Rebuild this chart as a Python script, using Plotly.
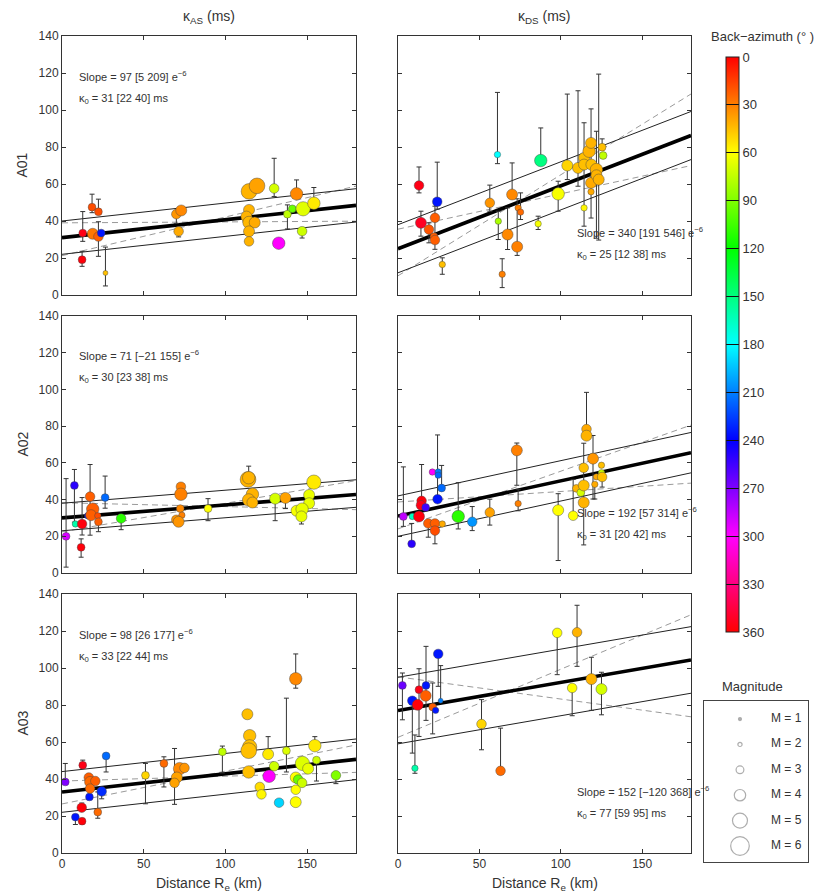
import plotly.graph_objects as go

W, H = 824, 894          # reference picture size
OFF = 8                  # page body margin offset
FW, FH = W - OFF, H - OFF  # figure size so that it fills the window exactly
FONT = "Arial, Liberation Sans, sans-serif"

# ---------------- labels / ticks ----------------
stations = ["A01", "A02", "A03"]
col_titles = ["κ<sub>AS</sub> (ms)", "κ<sub>DS</sub> (ms)"]
x_title = "Distance R<sub>e</sub> (km)"
x_ticks = [0, 50, 100, 150]
y_ticks = [0, 20, 40, 60, 80, 100, 120, 140]
baz_ticks = [0, 30, 60, 90, 120, 150, 180, 210, 240, 270, 300, 330, 360]
mag_legend = [1, 2, 3, 4, 5, 6]

# ---------------- fit parameters (slope in e-6 s/km, kappa0 in ms) ----------------
as_slope = [97, 71, 98]
as_slope_lo = [5, -21, 26]
as_slope_hi = [209, 155, 177]
as_k0 = [31, 30, 33]
as_k0_lo = [22, 23, 22]
as_k0_hi = [40, 38, 44]
as_pivot = [87, 90, 82]

ds_slope = [340, 192, 152]
ds_slope_lo = [191, 57, -120]
ds_slope_hi = [546, 314, 368]
ds_k0 = [25, 31, 77]
ds_k0_lo = [12, 20, 59]
ds_k0_hi = [38, 42, 95]
ds_pivot = [71, 57, 67]

# ---------------- A01 kappa_AS ----------------
a01_as_dist = [12.7, 12.3, 18.4, 22.3, 18.8, 22.3, 24.0, 26.6, 70.0, 73.0, 71.4, 114.5, 119.4, 114.5, 112.9, 114.5, 118.0, 114.5, 114.5, 129.9, 132.7, 143.6, 138.0, 141.0, 147.6, 147.0, 154.2]
a01_as_kappa = [33.5, 19.1, 47.5, 45.0, 33.1, 31.6, 33.5, 11.9, 43.7, 45.7, 34.4, 56.0, 59.0, 46.0, 42.4, 39.2, 39.2, 34.4, 29.0, 57.6, 28.0, 54.7, 43.7, 46.6, 46.6, 34.5, 49.6]
a01_as_up = [11.6, 4.5, 7.0, 6.8, 0, 8.0, 0, 14.0, 0, 0, 0, 0, 0, 0, 0, 0, 0, 0, 0, 16.3, 0, 7.5, 5.0, 0, 0, 0, 8.5]
a01_as_dn = [4.5, 3.6, 3.0, 0, 0, 10.7, 0, 7.0, 5.0, 0, 3.0, 0, 0, 0, 0, 0, 0, 0, 0, 4.4, 0, 0, 8.0, 0, 0, 3.7, 0]
a01_as_baz = [355, 358, 18, 18, 28, 22, 235, 45, 35, 32, 40, 42, 38, 42, 42, 43, 40, 42, 42, 70, 300, 32, 75, 95, 67, 72, 55]
a01_as_mag = [3.0, 3.0, 3.0, 3.0, 3.9, 3.5, 3.0, 2.2, 3.5, 3.9, 3.5, 5.2, 5.2, 3.9, 3.9, 4.3, 3.9, 3.9, 3.5, 3.5, 4.3, 4.3, 3.0, 3.0, 4.8, 3.5, 4.3]

# ---------------- A01 kappa_DS ----------------
a01_ds_dist = [12.9, 14.1, 24.1, 19.0, 22.7, 22.1, 22.7, 27.2, 61.1, 61.6, 56.4, 64.0, 67.3, 70.1, 73.2, 73.8, 75.3, 87.7, 86.1, 98.4, 104.0, 110.6, 114.3, 114.3, 114.3, 117.4, 118.6, 118.8, 118.6, 118.6, 121.9, 121.9, 123.3, 125.4, 126.0]
a01_ds_kappa = [59.2, 39.0, 50.4, 35.4, 41.7, 31.5, 29.7, 16.5, 75.9, 39.9, 49.8, 11.2, 32.7, 54.3, 26.1, 47.1, 44.8, 72.7, 38.5, 54.7, 70.0, 68.7, 47.1, 74.1, 70.5, 77.7, 82.2, 70.5, 60.6, 55.8, 67.8, 64.7, 62.4, 79.9, 75.4]
a01_ds_up = [10, 6.3, 21.4, 3.6, 6.3, 0, 0, 3.6, 33.6, 5.4, 9.6, 8.4, 14.4, 17.1, 25.9, 0, 10.4, 17.6, 4.1, 6.8, 38.6, 41.7, 46, 0, 0, 0, 0, 0, 40, 0, 20.7, 0, 57, 4.5, 0]
a01_ds_dn = [4, 7.2, 4, 7.2, 17, 0, 0, 5.3, 4.9, 9.9, 4.5, 7.2, 8.1, 0, 4.7, 0, 4, 0, 3.1, 9.4, 7.6, 9.9, 9.9, 0, 0, 0, 0, 0, 19, 0, 0, 34, 32.7, 0, 0]
a01_ds_baz = [355, 352, 235, 20, 22, 22, 22, 45, 180, 80, 35, 30, 32, 32, 30, 30, 25, 150, 62, 62, 50, 45, 58, 45, 45, 42, 42, 45, 40, 40, 42, 42, 42, 45, 75]
a01_ds_mag = [3.5, 3.9, 3.5, 3.5, 3.5, 3.0, 3.5, 2.6, 2.6, 2.6, 3.5, 2.6, 3.9, 3.9, 3.9, 2.6, 2.6, 4.3, 2.6, 4.3, 3.9, 3.9, 2.6, 3.9, 3.9, 4.3, 3.9, 3.9, 3.9, 2.6, 4.3, 3.9, 3.9, 3.0, 3.0]

# ---------------- A02 kappa_AS ----------------
a02_as_dist = [2.5, 7.6, 8.2, 12.3, 11.7, 15.7, 17.2, 18.8, 17.8, 21.9, 22.3, 26.4, 36.2, 72.8, 72.8, 72.4, 73.4, 70.0, 71.4, 89.4, 113.9, 114.3, 116.6, 114.3, 116.6, 130.5, 136.8, 154.2, 151.3, 151.3, 143.6, 147.0, 146.6]
a02_as_kappa = [20.0, 47.7, 26.7, 26.7, 14.0, 31.2, 41.6, 34.8, 31.5, 31.2, 27.9, 41.1, 29.7, 47.0, 42.9, 35.1, 31.5, 29.0, 27.9, 35.1, 51.0, 51.9, 42.9, 39.8, 38.4, 40.5, 40.9, 49.5, 42.5, 38.0, 33.9, 34.8, 30.8]
a02_as_up = [31.4, 8.7, 0, 14.4, 4.6, 0, 17.5, 0, 0, 0, 0, 11.7, 0, 0, 0, 0, 0, 0, 0, 5.4, 0, 6.3, 0, 0, 0, 0, 0, 0, 0, 0, 0, 0, 0]
a02_as_dn = [16.8, 20, 0, 6, 5.4, 0, 21, 0, 0, 0, 5.4, 5.8, 6.1, 0, 0, 0, 0, 0, 0, 6.6, 0, 0, 0, 0, 0, 12, 5.8, 0, 0, 0, 0, 0, 4.1]
a02_as_baz = [290, 250, 160, 357, 358, 235, 22, 22, 22, 18, 22, 215, 110, 30, 30, 32, 30, 35, 35, 60, 42, 42, 42, 42, 42, 70, 38, 55, 65, 65, 62, 65, 65]
a02_as_mag = [3.0, 3.0, 2.6, 3.5, 3.0, 2.6, 3.5, 4.3, 3.9, 2.6, 3.0, 3.0, 3.5, 3.5, 4.3, 3.0, 2.6, 3.5, 3.9, 3.0, 5.2, 4.3, 4.3, 4.3, 3.9, 3.9, 3.9, 4.8, 3.9, 3.9, 3.9, 4.3, 3.9]

# ---------------- A02 kappa_DS ----------------
a02_ds_dist = [3.3, 8.8, 8.4, 14.5, 14.1, 12.9, 17.0, 18.6, 22.7, 22.7, 27.2, 21.1, 24.7, 24.7, 26.8, 24.3, 37.0, 45.6, 56.4, 73.0, 73.8, 98.4, 107.6, 109.6, 112.3, 114.1, 114.1, 114.1, 115.8, 115.8, 119.8, 120.9, 121.9, 125.0, 125.0, 125.4]
a02_ds_kappa = [30.8, 30.8, 15.9, 39.3, 36.9, 30.8, 35.7, 27.0, 27.0, 23.1, 26.7, 55.0, 55.0, 53.3, 46.3, 40.2, 30.8, 27.9, 33.0, 66.8, 37.8, 34.2, 31.2, 46.1, 43.8, 57.3, 47.7, 38.4, 78.4, 74.8, 62.3, 48.3, 52.4, 58.7, 54.6, 52.3]
a02_ds_up = [27, 0, 11.1, 19.8, 0, 0, 0, 0, 0, 0, 0, 0, 0, 0, 12.3, 35, 18.4, 8.3, 7.2, 4, 7.8, 9, 19.8, 0, 0, 0, 23, 0, 20, 0, 12.6, 0, 0, 0, 0, 0]
a02_ds_dn = [5.4, 0, 0, 0, 0, 0, 0, 7.5, 0, 7.2, 0, 0, 0, 0, 0, 0, 6.8, 4.8, 6.9, 19, 3.9, 27.4, 0, 0, 0, 0, 32.4, 0, 0, 0, 22, 8, 0, 0, 0, 5.5]
a02_ds_baz = [285, 165, 250, 358, 355, 357, 255, 22, 22, 18, 40, 300, 210, 215, 215, 235, 110, 205, 38, 30, 30, 60, 60, 42, 70, 45, 45, 42, 40, 42, 35, 40, 40, 45, 72, 45]
a02_ds_mag = [3.0, 2.6, 3.0, 3.5, 3.5, 3.9, 3.0, 3.5, 3.5, 3.5, 2.6, 2.6, 2.6, 2.6, 3.0, 3.5, 4.3, 3.5, 3.5, 3.9, 2.6, 3.9, 3.5, 3.0, 3.0, 3.5, 3.9, 3.9, 3.5, 3.9, 3.9, 2.6, 2.6, 2.6, 2.6, 3.5]

# ---------------- A03 kappa_AS ----------------
a03_as_dist = [2.0, 8.2, 12.3, 12.1, 12.7, 16.8, 16.4, 17.2, 20.4, 17.2, 24.3, 21.9, 27.0, 51.1, 62.4, 72.0, 75.0, 70.3, 68.9, 98.2, 113.5, 114.9, 114.9, 114.3, 114.3, 126.2, 129.9, 126.8, 121.1, 122.1, 132.9, 137.4, 143.1, 143.1, 144.6, 147.0, 143.1, 143.1, 147.2, 150.7, 154.8, 155.8, 167.7]
a03_as_kappa = [38.4, 19.4, 17.2, 24.5, 47.5, 30.3, 40.8, 38.4, 38.9, 34.8, 33.3, 22.1, 52.5, 42.0, 48.4, 45.6, 46.0, 40.8, 37.9, 54.7, 75.0, 63.4, 57.4, 55.3, 43.8, 53.4, 46.9, 41.5, 35.7, 31.7, 27.2, 55.3, 94.2, 40.8, 39.7, 37.9, 34.2, 27.5, 48.4, 45.6, 58.0, 50.2, 42.0]
a03_as_up = [10, 0, 0, 2.5, 2.7, 0, 0, 0, 0, 0, 0, 10.9, 0, 6.4, 3.6, 0, 0, 0, 18.6, 3.1, 0, 0, 0, 0, 0, 9.5, 0, 0, 0, 0, 0, 28.4, 13.4, 0, 0, 0, 0, 0, 0, 0, 4.9, 0, 0]
a03_as_dn = [0, 4, 0, 0, 0, 0, 0, 0, 0, 0, 4, 3.3, 8.7, 15.4, 12.7, 0, 0, 0, 11.6, 11.4, 0, 0, 0, 0, 0, 0, 0, 0, 0, 0, 0, 11.5, 5.1, 0, 0, 0, 0, 0, 0, 0, 0, 11.3, 4.5]
a03_as_baz = [270, 235, 358, 358, 355, 235, 22, 25, 22, 25, 230, 25, 215, 50, 25, 32, 35, 38, 38, 75, 45, 45, 45, 45, 45, 55, 72, 300, 52, 58, 190, 68, 32, 60, 95, 72, 60, 60, 68, 65, 55, 72, 90]
a03_as_mag = [3.0, 3.0, 3.0, 3.5, 3.0, 3.0, 3.5, 3.9, 3.5, 3.5, 3.5, 3.0, 3.0, 3.0, 3.0, 4.3, 3.5, 3.9, 3.5, 3.0, 3.9, 4.3, 4.8, 5.2, 4.3, 3.9, 3.5, 4.3, 3.5, 3.5, 3.5, 3.0, 4.3, 3.9, 3.5, 3.5, 3.5, 3.9, 4.8, 3.9, 4.3, 3.0, 3.5]

# ---------------- A03 kappa_DS ----------------
a03_ds_dist = [2.7, 8.8, 10.4, 12.9, 12.1, 17.2, 17.0, 21.3, 23.1, 24.7, 26.2, 51.3, 63.0, 97.8, 110.0, 107.0, 118.8, 125.0]
a03_ds_kappa = [90.6, 82.3, 45.8, 88.3, 80.1, 90.6, 85.0, 78.9, 77.1, 107.6, 82.3, 69.7, 44.4, 119.0, 119.3, 89.2, 94.0, 88.6]
a03_ds_up = [6.7, 0, 18, 11.3, 0, 21.1, 0, 13, 0, 0, 19, 13.2, 23.1, 0, 14.6, 0, 11.8, 9.1]
a03_ds_dn = [18.6, 28.3, 2.7, 25.3, 0, 18.9, 0, 14.5, 0, 17.5, 0, 13.9, 0, 22.6, 18.4, 15, 16.9, 13.9]
a03_ds_baz = [265, 235, 160, 355, 358, 235, 22, 22, 235, 235, 210, 50, 25, 60, 42, 60, 42, 70]
a03_ds_mag = [3.0, 3.5, 2.6, 3.0, 3.9, 3.0, 3.9, 3.0, 2.6, 3.5, 2.2, 3.5, 3.5, 3.5, 3.5, 3.5, 3.9, 3.9]

# ---------------- assemble ----------------
panels = [
    (a01_as_dist, a01_as_kappa, a01_as_up, a01_as_dn, a01_as_baz, a01_as_mag),
    (a01_ds_dist, a01_ds_kappa, a01_ds_up, a01_ds_dn, a01_ds_baz, a01_ds_mag),
    (a02_as_dist, a02_as_kappa, a02_as_up, a02_as_dn, a02_as_baz, a02_as_mag),
    (a02_ds_dist, a02_ds_kappa, a02_ds_up, a02_ds_dn, a02_ds_baz, a02_ds_mag),
    (a03_as_dist, a03_as_kappa, a03_as_up, a03_as_dn, a03_as_baz, a03_as_mag),
    (a03_ds_dist, a03_ds_kappa, a03_ds_up, a03_ds_dn, a03_ds_baz, a03_ds_mag),
]
fits = [
    (as_slope, as_slope_lo, as_slope_hi, as_k0, as_k0_lo, as_k0_hi, as_pivot),
    (ds_slope, ds_slope_lo, ds_slope_hi, ds_k0, ds_k0_lo, ds_k0_hi, ds_pivot),
]

# panel boxes in window pixels
col_px = [(62, 356), (398, 691)]
row_px = [(36, 295), (316, 573), (594, 853)]


def px(x):
    return (x - OFF) / FW


def py(y):
    return 1 - (y - OFF) / FH


def msize(m):
    return max(3.6 * m - 3, 3)


# hsv colorscale on reversed value (v = 360 - azimuth) so 0 sits at the top of the bar
hsv_scale = [
    [0.0, "rgb(255,0,0)"],
    [1 / 6, "rgb(255,0,255)"],
    [2 / 6, "rgb(0,0,255)"],
    [3 / 6, "rgb(0,255,255)"],
    [4 / 6, "rgb(0,255,0)"],
    [5 / 6, "rgb(255,255,0)"],
    [1.0, "rgb(255,0,0)"],
]

fig = go.Figure()
layout = {}
annotations = []
R = [0, 180]


def note(x, y, text, size, xanchor="center", angle=0):
    annotations.append(dict(x=px(x), y=py(y), xref="paper", yref="paper",
                            xanchor=xanchor, yanchor="middle", text=text,
                            showarrow=False, textangle=angle,
                            font=dict(family=FONT, size=size, color="#333")))


for r in range(3):
    for c in range(2):
        i = r * 2 + c
        n = i + 1
        xr = "x" if n == 1 else f"x{n}"
        yr = "y" if n == 1 else f"y{n}"
        xa = "xaxis" if n == 1 else f"xaxis{n}"
        ya = "yaxis" if n == 1 else f"yaxis{n}"
        x0, x1 = col_px[c]
        y0, y1 = row_px[r]
        common = dict(ticks="inside", ticklen=4, tickcolor="#333",
                      showline=True, linecolor="#333", linewidth=1, mirror="ticks",
                      showgrid=False, zeroline=False, automargin=False,
                      tickfont=dict(family=FONT, size=12, color="#333"))
        layout[xa] = dict(domain=[px(x0), px(x1)], range=[0, 180], anchor=yr,
                          tickvals=x_ticks, showticklabels=(r == 2), **common)
        layout[ya] = dict(domain=[py(y1), py(y0)], range=[0, 140], anchor=xr,
                          tickvals=y_ticks, showticklabels=(c == 0), **common)

        sl, sl_lo, sl_hi, k0, k0_lo, k0_hi, piv = fits[c]
        s = sl[r] * 1e-3
        xc = piv[r]
        yc = k0[r] + s * xc
        # dashed slope-bound lines (pivoting about the data centre)
        for sb in (sl_lo[r], sl_hi[r]):
            fig.add_trace(go.Scatter(x=R, y=[yc + sb * 1e-3 * (xx - xc) for xx in R],
                                     mode="lines", xaxis=xr, yaxis=yr, showlegend=False,
                                     line=dict(color="#9a9a9a", width=1, dash="6px,4px"),
                                     hoverinfo="skip"))
        # thin intercept-bound lines
        for kb in (k0_lo[r], k0_hi[r]):
            fig.add_trace(go.Scatter(x=R, y=[kb + s * xx for xx in R],
                                     mode="lines", xaxis=xr, yaxis=yr, showlegend=False,
                                     line=dict(color="#222", width=1), hoverinfo="skip"))
        # bold best fit
        fig.add_trace(go.Scatter(x=R, y=[k0[r] + s * xx for xx in R],
                                 mode="lines", xaxis=xr, yaxis=yr, showlegend=False,
                                 line=dict(color="black", width=3.6), hoverinfo="skip"))

        dist, kap, up, dn, baz, mag = panels[i]
        fig.add_trace(go.Scatter(
            x=dist, y=kap, mode="markers", xaxis=xr, yaxis=yr, showlegend=False,
            error_y=dict(type="data", symmetric=False,
                         array=[u if u > 0 else None for u in up],
                         arrayminus=[d if d > 0 else None for d in dn],
                         color="#333", thickness=1, width=2.5),
            marker=dict(size=[msize(m) for m in mag],
                        color=[360 - b for b in baz], coloraxis="coloraxis",
                        line=dict(color="rgba(70,70,70,0.75)", width=0.6),
                        opacity=1),
        ))

        # fit-statistics text
        if c == 0:
            tx, ty1 = 77, [76, 355, 634][r]
        else:
            tx, ty1 = 575, [232, 512, 791][r]
        ty2 = ty1 + 23
        note(tx, ty1, f"Slope = {sl[r]} [{sl_lo[r]} {sl_hi[r]}] e<sup>−6</sup>".replace("[-", "[−"),
             11, xanchor="left")
        note(tx, ty2, f"κ<sub>0</sub> = {k0[r]} [{k0_lo[r]} {k0_hi[r]}] ms", 11, xanchor="left")

# column titles, row labels, x titles
for c in range(2):
    cx = (col_px[c][0] + col_px[c][1]) / 2
    note(cx, 17, col_titles[c], 14)
    note(cx, 884, x_title, 14)
for r in range(3):
    cy = (row_px[r][0] + row_px[r][1]) / 2
    note(22, cy, stations[r], 14, angle=-90)

# colorbar title and magnitude legend title
note(762, 37, "Back−azimuth (° )", 13)
note(752, 686, "Magnitude", 13)

# magnitude legend (own axes)
layout["xaxis7"] = dict(domain=[px(704), px(808)], range=[0, 1], anchor="y7",
                        showline=True, mirror=True, linecolor="#444", linewidth=1,
                        showticklabels=False, ticks="", showgrid=False, zeroline=False)
layout["yaxis7"] = dict(domain=[py(862), py(701)], range=[6.63, 0.29], anchor="x7",
                        showline=True, mirror=True, linecolor="#444", linewidth=1,
                        showticklabels=False, ticks="", showgrid=False, zeroline=False)
fig.add_trace(go.Scatter(
    x=[0.346] * len(mag_legend), y=mag_legend, mode="markers", xaxis="x7", yaxis="y7",
    showlegend=False, hoverinfo="skip",
    marker=dict(size=[msize(m) for m in mag_legend],
                symbol=["circle" if m == 1 else "circle-open" for m in mag_legend],
                color="#8a8a8a", line=dict(color="#8a8a8a", width=1.2))))
fig.add_trace(go.Scatter(
    x=[0.79] * len(mag_legend), y=mag_legend, mode="text", xaxis="x7", yaxis="y7",
    text=[f"M = {m}" for m in mag_legend], showlegend=False, hoverinfo="skip",
    textfont=dict(family=FONT, size=12, color="#333")))

fig.update_layout(
    width=FW, height=FH,
    margin=dict(l=0, r=0, t=0, b=0, pad=0, autoexpand=False),
    paper_bgcolor="white", plot_bgcolor="white",
    showlegend=False,
    annotations=annotations,
    coloraxis=dict(
        cmin=0, cmax=360, colorscale=hsv_scale,
        colorbar=dict(
            x=px(726), xanchor="left", xpad=0,
            y=py(344.5), yanchor="middle", ypad=0,
            len=575 / FH, lenmode="fraction",
            thickness=13, thicknessmode="pixels",
            outlinewidth=1, outlinecolor="#222",
            tickvals=[360 - t for t in baz_ticks],
            ticktext=[str(t) for t in baz_ticks],
            ticks="inside", ticklen=13, tickcolor="#111", tickwidth=1,
            tickfont=dict(family=FONT, size=13, color="#333"),
        ),
    ),
    **layout,
)

fig.write_html("out.html")
